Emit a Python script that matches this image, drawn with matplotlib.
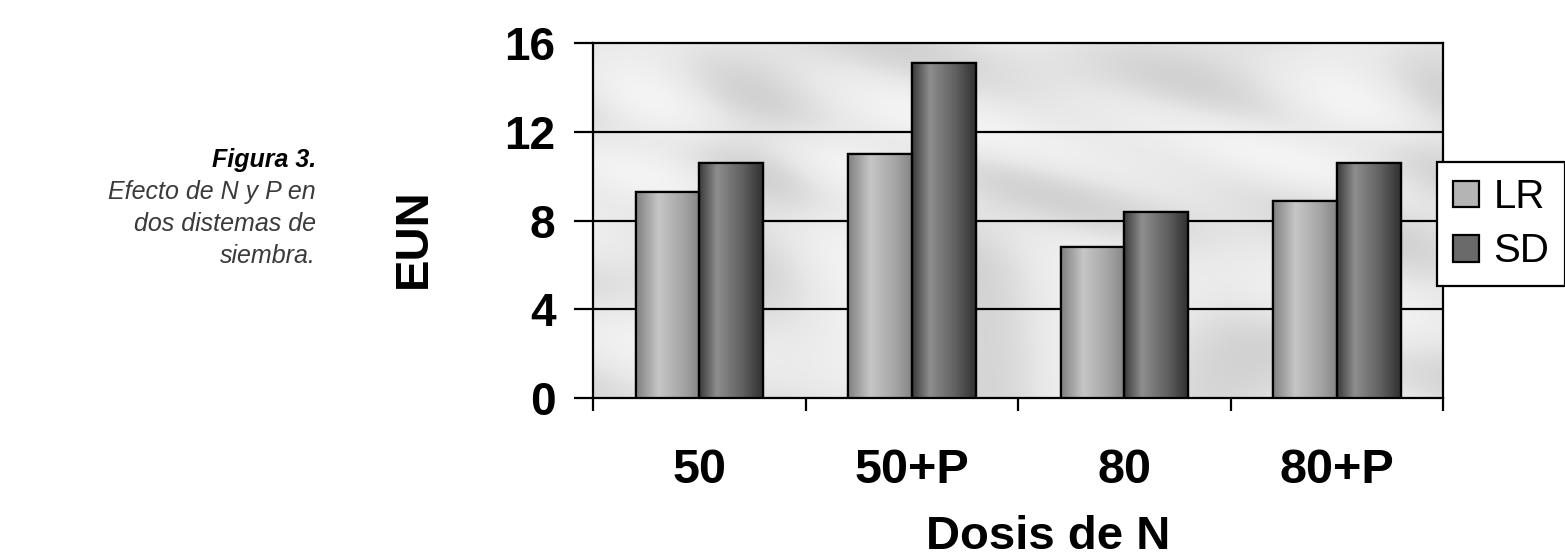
import numpy as np
import matplotlib
matplotlib.use("Agg")
import matplotlib.pyplot as plt
from matplotlib.colors import LinearSegmentedColormap
from matplotlib.patches import Patch

# ---------------- DATA ----------------
categories = ["50", "50+P", "80", "80+P"]
lr_values = [9.3, 11.0, 6.8, 8.9]
sd_values = [10.6, 15.1, 8.4, 10.6]
series_names = ["LR", "SD"]
y_ticks = [0, 4, 8, 12, 16]
# --------------------------------------

plt.rcParams["font.family"] = ["Liberation Sans", "DejaVu Sans"]

fig = plt.figure(figsize=(15.65, 5.6), dpi=100)
ax = fig.add_axes([593 / 1565, 162 / 560, 850 / 1565, 355 / 560])
ax.set_facecolor("#e4e4e4")

# soft marble-like backdrop (decoration only)
gx, gy = np.meshgrid(np.linspace(0, 1, 400), np.linspace(0, 1, 200))
marble = (np.sin(9 * (gx + gy) + 2.5 * np.sin(7 * gx - 4 * gy))
          + 0.6 * np.sin(23 * (gx - 0.6 * gy) + 3 * np.cos(5 * gy)))
bg_cmap = LinearSegmentedColormap.from_list("bg", ["#d2d2d2", "#e8e8e8", "#f4f4f4"])
ax.imshow(marble, cmap=bg_cmap, extent=(0, 1, 0, 1), transform=ax.transAxes,
          aspect="auto", zorder=0, interpolation="bilinear")

# shading ramps for the "cylinder" look of the bars
lr_cmap = LinearSegmentedColormap.from_list(
    "lr", [(0, "#808080"), (0.35, "#c6c6c6"), (0.75, "#a4a4a4"), (1, "#858585")])
sd_cmap = LinearSegmentedColormap.from_list(
    "sd", [(0, "#3a3a3a"), (0.28, "#8e8e8e"), (0.7, "#5e5e5e"), (1, "#303030")])

x = np.arange(len(categories))
w = 0.3
bars_lr = ax.bar(x - w / 2, lr_values, w, color="#a8a8a8", edgecolor="black",
                 linewidth=1.6, zorder=3)
bars_sd = ax.bar(x + w / 2, sd_values, w, color="#606060", edgecolor="black",
                 linewidth=1.6, zorder=3)

grad = np.linspace(0, 1, 256).reshape(1, -1)
for bars, cmap in [(bars_lr, lr_cmap), (bars_sd, sd_cmap)]:
    for rect in bars:
        x0 = rect.get_x()
        im = ax.imshow(grad, cmap=cmap, aspect="auto", zorder=3.5,
                       extent=(x0, x0 + rect.get_width(), 0, rect.get_height()))
        im.set_clip_path(rect)
        # outline on top of the gradient
        ax.add_patch(plt.Rectangle((x0, 0), rect.get_width(), rect.get_height(),
                                   fill=False, edgecolor="black", linewidth=1.6, zorder=4))

ax.set_xlim(-0.5, len(categories) - 0.5)
ax.set_ylim(0, 16)

# gridlines
for yv in y_ticks[1:-1]:
    ax.axhline(yv, color="black", linewidth=1.6, zorder=1)

for s in ax.spines.values():
    s.set_linewidth(1.6)
    s.set_color("black")

ax.set_yticks(y_ticks)
ax.set_yticklabels([str(v) for v in y_ticks], fontsize=33, fontweight="bold")
ax.tick_params(axis="y", direction="out", length=14, width=1.6, pad=13)

# x: tick marks at category borders, labels at centres
ax.set_xticks(np.arange(-0.5, len(categories), 1.0))
ax.set_xticklabels([])
ax.tick_params(axis="x", which="major", direction="out", length=9, width=1.6)
ax.set_xticks(x, minor=True)
ax.set_xticklabels(categories, minor=True, fontsize=35, fontweight="bold")
ax.tick_params(axis="x", which="minor", length=0, pad=36)

ax.set_xlabel("Dosis de N", fontsize=34, fontweight="bold")
ax.xaxis.set_label_coords(0.535, -0.33)
ax.set_ylabel("EUN", fontsize=34, fontweight="bold")
ax.yaxis.set_label_coords(-0.185, 0.45)

# legend
handles = [Patch(facecolor="#b4b4b4", edgecolor="black", linewidth=1.6),
           Patch(facecolor="#6a6a6a", edgecolor="black", linewidth=1.6)]
leg = fig.legend(handles, series_names, loc="upper left",
                 bbox_to_anchor=(1437 / 1565, 1 - 162 / 560),
                 fontsize=29, frameon=True, fancybox=False,
                 handlelength=0.65, handleheight=0.65, handletextpad=0.35,
                 borderpad=0.4, labelspacing=0.4, borderaxespad=0)
leg.get_frame().set_edgecolor("black")
leg.get_frame().set_linewidth(1.6)
leg.get_frame().set_facecolor("white")
leg.get_frame().set_alpha(1)

# caption
fig.text(316 / 1565, 1 - 160 / 560, "Figura 3.", ha="right", va="center",
         fontsize=18, fontweight="bold", style="italic", color="black")
caption = ["Efecto de N y P en", "dos distemas de", "siembra."]
for i, line in enumerate(caption):
    fig.text(316 / 1565, 1 - (192 + 32 * i) / 560, line, ha="right", va="center",
             fontsize=18, style="italic", color="#3a3a3a")

fig.savefig("out.png", dpi=100, facecolor="white")
